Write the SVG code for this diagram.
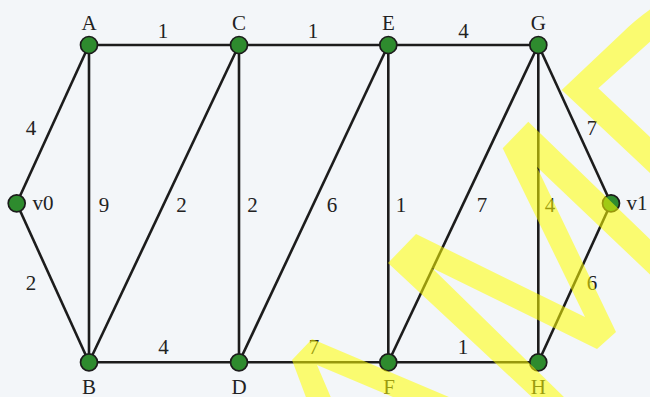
<svg xmlns="http://www.w3.org/2000/svg" width="650" height="397" viewBox="0 0 650 397">
<style>
.edge{stroke:#1c1c1c;stroke-width:2.6;fill:none}
.node{fill:#2e8b2e;stroke:#1c1c1c;stroke-width:1.7}
text{font-family:"Liberation Serif","Times New Roman",serif;font-size:21px;fill:#222}
.c{text-anchor:middle}
.wm{fill:#ffff00;fill-opacity:0.55;stroke:none}
</style>
<rect width="650" height="397" fill="#f3f6f9"/>
<g id="connectors">
<line class="edge" x1="89" y1="45" x2="239" y2="45"/>
<line class="edge" x1="239" y1="45" x2="388.3" y2="45"/>
<line class="edge" x1="388.3" y1="45" x2="538.3" y2="45"/>
<line class="edge" x1="89" y1="45" x2="16.7" y2="203.3"/>
<line class="edge" x1="16.7" y1="203.3" x2="89" y2="362.3"/>
<line class="edge" x1="89" y1="45" x2="89" y2="362.3"/>
<line class="edge" x1="239" y1="45" x2="89" y2="362.3"/>
<line class="edge" x1="239" y1="45" x2="239" y2="362.3"/>
<line class="edge" x1="388.3" y1="45" x2="239" y2="362.3"/>
<line class="edge" x1="388.3" y1="45" x2="388.3" y2="362.3"/>
<line class="edge" x1="538.3" y1="45" x2="388.3" y2="362.3"/>
<line class="edge" x1="538.3" y1="45" x2="538.3" y2="362.3"/>
<line class="edge" x1="538.3" y1="45" x2="611" y2="203.3"/>
<line class="edge" x1="611" y1="203.3" x2="538.3" y2="362.3"/>
<line class="edge" x1="89" y1="362.3" x2="239" y2="362.3"/>
<line class="edge" x1="239" y1="362.3" x2="388.3" y2="362.3"/>
<line class="edge" x1="388.3" y1="362.3" x2="538.3" y2="362.3"/>
<text class="c" x="163" y="38">1</text>
<text class="c" x="313" y="38">1</text>
<text class="c" x="463.5" y="38">4</text>
<text class="c" x="31" y="135">4</text>
<text class="c" x="31" y="290">2</text>
<text class="c" x="104" y="211.5">9</text>
<text class="c" x="181.5" y="211.5">2</text>
<text class="c" x="252.5" y="211.5">2</text>
<text class="c" x="332" y="211.5">6</text>
<text class="c" x="401" y="211.5">1</text>
<text class="c" x="482" y="211.5">7</text>
<text class="c" x="550" y="211.5">4</text>
<text class="c" x="592" y="135">7</text>
<text class="c" x="592" y="290">6</text>
<text class="c" x="163.5" y="354">4</text>
<text class="c" x="314" y="354">7</text>
<text class="c" x="463" y="354">1</text>
</g>
<g id="A"><circle class="node" cx="89" cy="45" r="8.5"/><text class="c" x="89" y="29.5">A</text></g>
<g id="C"><circle class="node" cx="239" cy="45" r="8.5"/><text class="c" x="239" y="29.5">C</text></g>
<g id="E"><circle class="node" cx="388.3" cy="45" r="8.5"/><text class="c" x="388.5" y="29.5">E</text></g>
<g id="G"><circle class="node" cx="538.3" cy="45" r="8.5"/><text class="c" x="538.3" y="29.5">G</text></g>
<g id="v0"><circle class="node" cx="16.7" cy="203.3" r="8.5"/><text x="32.5" y="210">v0</text></g>
<g id="v1"><circle class="node" cx="611" cy="203.3" r="8.5"/><text x="626.5" y="210">v1</text></g>
<g id="B"><circle class="node" cx="89" cy="362.3" r="8.5"/><text class="c" x="89" y="394">B</text></g>
<g id="D"><circle class="node" cx="239" cy="362.3" r="8.5"/><text class="c" x="239" y="394">D</text></g>
<g id="F"><circle class="node" cx="388.3" cy="362.3" r="8.5"/><text class="c" x="389" y="394">F</text></g>
<g id="H"><circle class="node" cx="538.3" cy="362.3" r="8.5"/><text class="c" x="538.3" y="394">H</text></g>
<g id="watermark">
<polygon class="wm" points="307,400 292,360 312,339 456,400 400,400 317,365 332,400"/>
<polygon class="wm" points="535,400 388,263 416,234 585,317 502.7,148.3 528.3,121.7 660,249 660,284 536.7,166.7 616,332 597,349 432,268 567,400"/>
<path class="wm" d="M561.7,90 L622,33 Q636,19 655,6 L655,37.3 L598.3,88.3 L655,141.6 L655,177.7 Z"/>
</g>
</svg>
